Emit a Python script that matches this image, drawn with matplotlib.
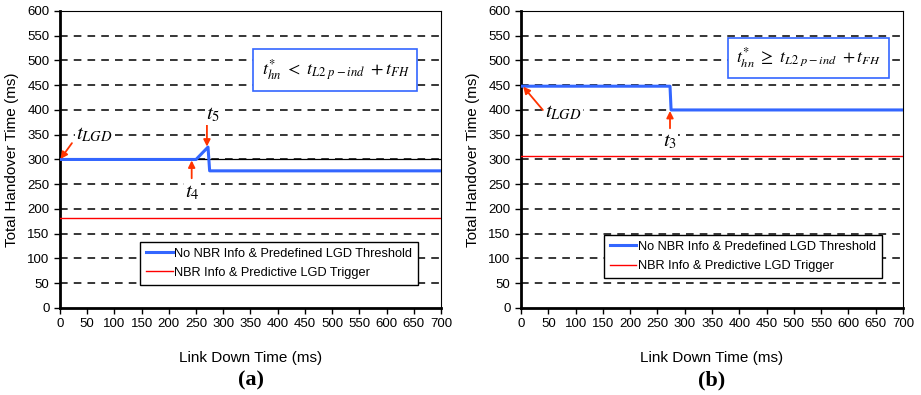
import matplotlib.pyplot as plt

plt.rcParams['font.family'] = ['Liberation Sans', 'DejaVu Sans']
plt.rcParams['mathtext.fontset'] = 'stix'

# panel (a)
xa = [0, 250, 272, 275, 700]
ya = [300, 300, 325, 277, 277]
xa_ref = [0, 700]
ya_ref = [300, 300]
xa_red = [0, 700]
ya_red = [182, 182]

# panel (b)
xb = [0, 273, 275, 700]
yb = [448, 448, 400, 400]
xb_red = [0, 700]
yb_red = [306, 306]

xticks = list(range(0, 701, 50))
yticks = list(range(0, 601, 50))
lbl_blue = "No NBR Info & Predefined LGD Threshold"
lbl_red = "NBR Info & Predictive LGD Trigger"

fig = plt.figure(figsize=(9.21, 3.95), dpi=100)
ax1 = fig.add_axes([0.0651, 0.2203, 0.4137, 0.752])
ax2 = fig.add_axes([0.5657, 0.2203, 0.4148, 0.752])


def style(ax):
    ax.set_xlim(0, 700)
    ax.set_ylim(0, 600)
    ax.set_xticks(xticks)
    ax.set_yticks(yticks)
    ax.tick_params(labelsize=9.5, length=4, width=1, direction='out')
    for y in yticks[1:-1]:
        ax.axhline(y, color='black', lw=1.1, ls=(0, (5, 4)), zorder=0)
    ax.spines['left'].set_linewidth(2)
    ax.spines['bottom'].set_linewidth(2)
    ax.spines['top'].set_linewidth(0.8)
    ax.spines['right'].set_linewidth(0.8)
    ax.set_xlabel("Link Down Time (ms)", fontsize=11, labelpad=15)
    ax.set_ylabel("Total Handover Time (ms)", fontsize=11, labelpad=6)


style(ax1)
style(ax2)

ax1.plot(xa_ref, ya_ref, color='black', lw=0.9, zorder=2)
ax1.plot(xa, ya, color='#3366ff', lw=2.2, label=lbl_blue, zorder=3)
ax1.plot(xa_red, ya_red, color='#ff0000', lw=1.0, label=lbl_red, zorder=3)

ax2.plot(xb, yb, color='#3366ff', lw=2.2, label=lbl_blue, zorder=3)
ax2.plot(xb_red, yb_red, color='#ff0000', lw=1.0, label=lbl_red, zorder=3)

for ax, anchor in [(ax1, (0.21, 0.222)), (ax2, (0.217, 0.245))]:
    leg = ax.legend(loc='upper left', bbox_to_anchor=anchor, fontsize=9.2,
                    fancybox=False, framealpha=1, edgecolor='black',
                    handlelength=2.1, borderpad=0.45, labelspacing=0.55,
                    handletextpad=0.15, borderaxespad=0)
    leg.get_frame().set_linewidth(1.0)

box = dict(boxstyle='square,pad=0.45', fc='white', ec='#3366ff', lw=1.2)
ax1.text(0.723, 0.801, r"$t_{hn}^{*}\ <\ t_{L2\ p-ind}\ +t_{FH}$", transform=ax1.transAxes,
         fontsize=13, ha='center', va='center', bbox=box)
ax2.text(0.753, 0.842, r"$t_{hn}^{*}\ \geq\ t_{L2\ p-ind}\ +t_{FH}$", transform=ax2.transAxes,
         fontsize=12.7, ha='center', va='center', bbox=box)

arrow = dict(arrowstyle='-|>', color='#ff3300', lw=1.3, mutation_scale=10,
             shrinkA=0, shrinkB=0)
# (tail, tip) of each red arrow, in data units
ax1.annotate("", xy=(1, 301), xytext=(22, 333), arrowprops=arrow)
ax1.annotate("", xy=(270, 326), xytext=(270, 370), arrowprops=arrow)
ax1.annotate("", xy=(242, 298), xytext=(242, 262), arrowprops=arrow)
ax2.annotate("", xy=(4, 447), xytext=(40, 400), arrowprops=arrow)
ax2.annotate("", xy=(273, 398), xytext=(273, 363), arrowprops=arrow)

wbg = dict(boxstyle='square,pad=0.05', fc='white', ec='none')
ax1.text(30, 350, r"$t_{LGD}$", fontsize=15, ha='left', va='center', bbox=wbg, zorder=4)
ax1.text(281, 390, r"$t_5$", fontsize=15, ha='center', va='center', bbox=wbg, zorder=4)
ax1.text(244, 234, r"$t_4$", fontsize=15, ha='center', va='center', bbox=wbg, zorder=4)
ax2.text(78, 394, r"$t_{LGD}$", fontsize=15, ha='center', va='center', bbox=wbg, zorder=4)
ax2.text(273, 336, r"$t_3$", fontsize=15, ha='center', va='center', bbox=wbg, zorder=4)

fig.text(0.2725, 0.025, "(a)", fontsize=16, fontweight='bold', family='Liberation Serif', ha='center')
fig.text(0.7725, 0.025, "(b)", fontsize=16, fontweight='bold', family='Liberation Serif', ha='center')

fig.savefig("out.png", dpi=100)
